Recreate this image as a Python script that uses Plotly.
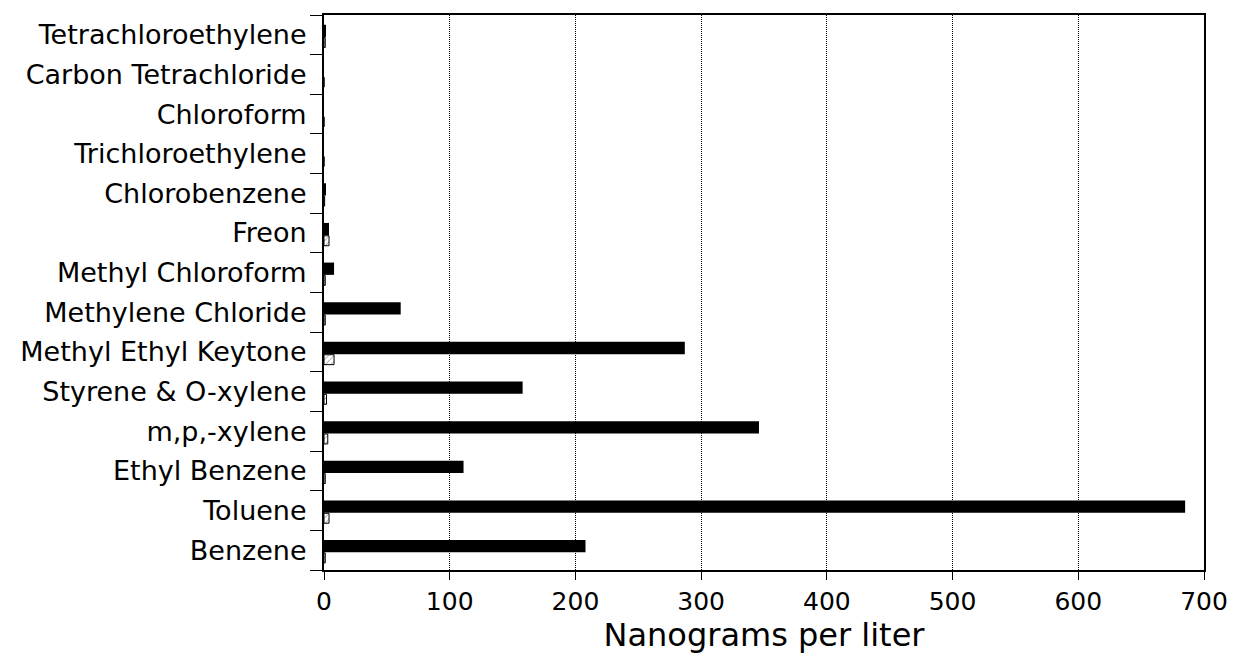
import plotly.graph_objects as go

# categories listed bottom to top (plotly puts the first category at the bottom)
compounds = [
    "Benzene", "Toluene", "Ethyl Benzene", "m,p,-xylene", "Styrene & O-xylene",
    "Methyl Ethyl Keytone", "Methylene Chloride", "Methyl Chloroform", "Freon",
    "Chlorobenzene", "Trichloroethylene", "Chloroform", "Carbon Tetrachloride",
    "Tetrachloroethylene",
]
# solid black bars
series_a = [208, 685, 111, 346, 158, 287, 61, 8, 4, 1.5, 0, 0, 0, 1.5]
# small hatched white bars
series_b = [1, 4, 1, 3, 2, 8, 1, 1, 4, 0.5, 0, 0, 0, 1]

x_ticks = [0, 100, 200, 300, 400, 500, 600, 700]

FONT = "DejaVu Sans"

fig = go.Figure()

fig.add_trace(go.Bar(
    y=compounds,
    x=series_b,
    orientation="h",
    width=0.25,
    offset=-0.32,
    marker=dict(color="white", line=dict(color="black", width=1),
                pattern=dict(shape="/", fgcolor="black", size=4, solidity=0.2)),
    showlegend=False,
))

fig.add_trace(go.Bar(
    y=compounds,
    x=series_a,
    orientation="h",
    width=0.31,
    offset=-0.055,
    marker=dict(color="black", line=dict(width=0)),
    showlegend=False,
))

# page body has an 8px margin, so the figure is sized to fit inside the window
fig.update_layout(
    width=1228,
    height=658,
    barmode="overlay",
    plot_bgcolor="white",
    paper_bgcolor="white",
    margin=dict(l=316, r=32, t=5, b=96),
    font=dict(family=FONT, color="black"),
    xaxis=dict(
        range=[0, 700],
        tickvals=x_ticks,
        ticktext=[str(v) for v in x_ticks],
        tickfont=dict(size=25, family=FONT, color="black"),
        ticks="outside",
        ticklen=8,
        tickcolor="black",
        tickwidth=1,
        showline=True,
        linecolor="black",
        linewidth=2,
        mirror=True,
        showgrid=True,
        gridcolor="black",
        gridwidth=1,
        griddash="1px,1px",
        zeroline=False,
        title=dict(text="Nanograms per liter", font=dict(size=32, family=FONT, color="black"),
                   standoff=6),
    ),
    yaxis=dict(
        type="category",
        tickson="boundaries",
        ticks="outside",
        ticklen=12,
        tickcolor="black",
        tickwidth=1,
        tickfont=dict(size=27, family=FONT, color="black"),
        ticklabelstandoff=10,
        showline=True,
        linecolor="black",
        linewidth=2,
        mirror=True,
        showgrid=False,
        zeroline=False,
    ),
)

fig.write_html("out.html")
